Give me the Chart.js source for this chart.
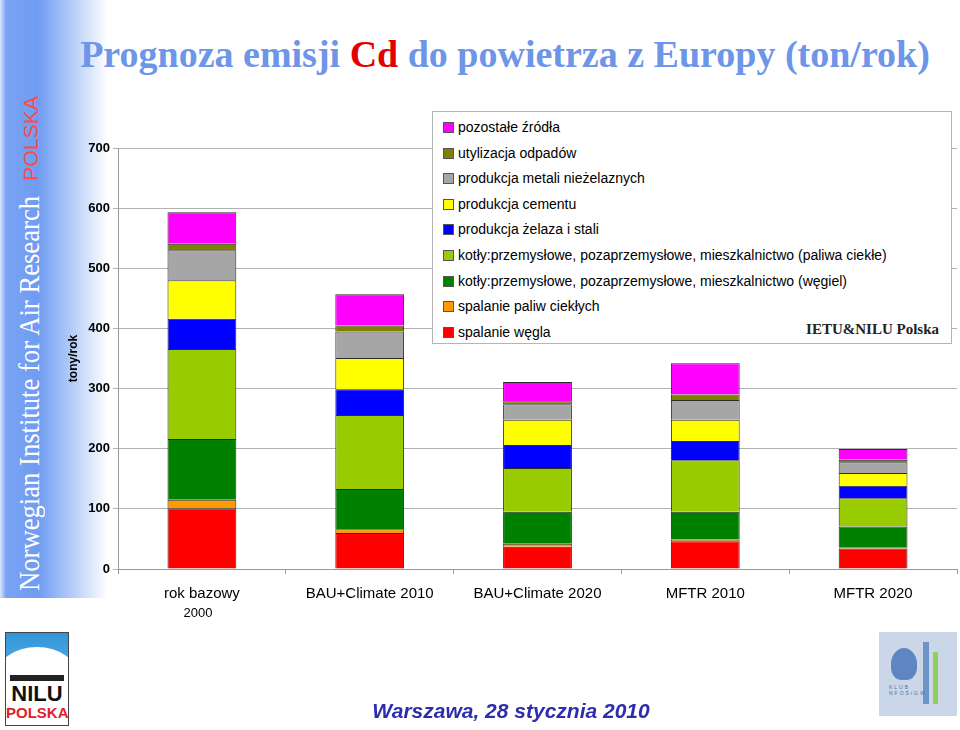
<!DOCTYPE html>
<html>
<head>
<meta charset="utf-8">
<script src="https://cdn.jsdelivr.net/npm/chart.js@4"></script>
<style>
  body { margin: 0; width: 960px; height: 730px; position: relative; overflow: hidden; background: #fff; font-family: "Liberation Sans", Arial, sans-serif; }
  #side { position: absolute; left: 0; top: 0; width: 110px; height: 598px;
    background: linear-gradient(to right, #dce6fa 0px, #7aa3f3 6px, #6f9cf2 38px, rgba(255,255,255,0) 108px); }
  .rot { position: absolute; width: 600px; height: 36px; line-height: 36px;
    transform: rotate(-90deg); transform-origin: left top; white-space: nowrap; }
  .rot span { display: inline-block; transform-origin: left center; }
  #sideN { left: 11px; top: 591px; font-family: "Liberation Serif", "Times New Roman", serif; font-size: 29px; color: #fff; }
  #sideP { left: 13px; top: 181px; font-family: "Liberation Sans", Arial, sans-serif; font-size: 21px; color: #ff4a4a; }
  #title { position: absolute; left: 0; top: 32px; width: 1010px; text-align: center; white-space: nowrap;
    font-family: "Liberation Serif", "Times New Roman", serif; font-weight: bold; font-size: 38px; color: #6d95e8; }
  #title span { color: #e50000; }
  #myChart { position: absolute; left: 0; top: 0; }
  #legend { position: absolute; left: 432px; top: 111px; width: 520px; height: 233px; background: #fff;
    border: 1px solid #b5b5b5; box-sizing: border-box; }
  .item { position: absolute; left: 10px; height: 20px; line-height: 20px; font-size: 14px; color: #000; white-space: nowrap; }
  .item i { display: inline-block; width: 9px; height: 9px; border: 1px solid #555; margin-right: 4px; vertical-align: -1px; }
  #ietu { position: absolute; right: 12px; top: 209px; font-family: "Liberation Serif", "Times New Roman", serif;
    font-weight: bold; font-size: 15px; color: #222; }
  #footer { position: absolute; left: 0; width: 1022px; top: 699px; text-align: center; font-size: 21px;
    font-weight: bold; font-style: italic; color: #2c2cae; }
  #nilu { position: absolute; left: 5px; top: 632px; width: 64px; height: 94px; border: 1px solid #444; box-sizing: border-box; background: #fff; overflow: hidden; }
  #nilu .sky { height: 50px; background: linear-gradient(#2f95d8, #66b5e6); position: relative; overflow: hidden; }
  #nilu .dome { position: absolute; left: -10px; top: 14px; width: 82px; height: 60px; border-radius: 50%; background: #fff; }
  #nilu .city { position: absolute; left: 4px; right: 4px; bottom: 2px; height: 6px; background: #222; }
  #nilu .t1 { font-weight: bold; font-size: 22px; line-height: 21px; text-align: center; color: #111; }
  #nilu .t2 { font-weight: bold; font-size: 15px; line-height: 17px; text-align: center; color: #e0202a; }
  #klub { position: absolute; left: 879px; top: 632px; width: 78px; height: 84px; background: #cbd7e9; }
  #klub .k { position: absolute; left: 10px; top: 52px; font-size: 5px; color: #4a6fa8; letter-spacing: 2px; }
  #klub .m { position: absolute; left: 44px; top: 10px; width: 6px; height: 62px; background: #6e95c8; }
  #klub .g { position: absolute; left: 54px; top: 20px; width: 5px; height: 52px; background: #8fcf5a; }
  #klub .h { position: absolute; left: 12px; top: 16px; width: 26px; height: 32px; border-radius: 50% 50% 40% 40%; background: #5f86c0; }
</style>
</head>
<body>
<div id="side"></div>
<div class="rot" id="sideN"><span data-len="395">Norwegian Institute for Air Research</span></div>
<div class="rot" id="sideP"><span data-len="85">POLSKA</span></div>
<div id="title">Prognoza emisji <span>Cd</span> do powietrza z Europy (ton/rok)</div>
<canvas id="myChart" width="960" height="730"></canvas>
<div id="legend"><div id="ietu">IETU&amp;NILU Polska</div></div>
<div id="footer">Warszawa, 28 stycznia 2010</div>
<div id="nilu"><div class="sky"><div class="dome"></div><div class="city"></div></div><div class="t1">NILU</div><div class="t2">POLSKA</div></div>
<div id="klub"><div class="h"></div><div class="m"></div><div class="g"></div><div class="k">KLUB<br>NFOŚiGW</div></div>
<script>
const categories = ['rok bazowy', 'BAU+Climate 2010', 'BAU+Climate 2020', 'MFTR 2010', 'MFTR 2020'];
const subLabels = ['2000', '', '', '', ''];
const yTicks = [0, 100, 200, 300, 400, 500, 600, 700];

// series, from the bottom of the stack upwards
const spalanieWegla = [101, 60, 37, 46, 34];
const spalaniePaliw = [14, 6, 5, 3, 1.5];
const kotlyWegiel = [101, 67, 53, 46, 35];
const kotlyPaliwa = [150, 123, 73, 86, 47];
const zelazoStal = [50, 43, 38, 32, 21];
const cement = [64, 52, 42, 35, 21];
const metaleNiezelazne = [50, 44, 26, 33, 18];
const odpady = [11, 10, 5, 9, 4];
const pozostale = [52, 52, 32, 52, 18];

const seriesNames = [
  'spalanie węgla',
  'spalanie paliw ciekłych',
  'kotły:przemysłowe, pozaprzemysłowe, mieszkalnictwo (węgiel)',
  'kotły:przemysłowe, pozaprzemysłowe, mieszkalnictwo (paliwa ciekłe)',
  'produkcja żelaza i stali',
  'produkcja cementu',
  'produkcja metali nieżelaznych',
  'utylizacja odpadów',
  'pozostałe źródła'
];
const seriesValues = [spalanieWegla, spalaniePaliw, kotlyWegiel, kotlyPaliwa, zelazoStal, cement, metaleNiezelazne, odpady, pozostale];
const seriesColors = ['#ff0000', '#ff9900', '#008000', '#99cc00', '#0000ff', '#ffff00', '#a6a6a6', '#808000', '#ff00ff'];

// squeeze the rotated sidebar texts to their length in the picture
document.querySelectorAll('.rot span').forEach(s => {
  const w = s.offsetWidth;
  if (w) s.style.transform = 'scaleX(' + (Number(s.dataset.len) / w) + ')';
});

const datasets = seriesNames.map((name, i) => ({
  label: name,
  data: seriesValues[i],
  backgroundColor: seriesColors[i],
  borderColor: '#2a2a2a',
  borderWidth: 1,
  barPercentage: 0.41,
  categoryPercentage: 1
}));

// legend, top entry first
const legend = document.getElementById('legend');
datasets.slice().reverse().forEach((ds, i) => {
  const d = document.createElement('div');
  d.className = 'item';
  d.style.top = (5 + i * 25.6) + 'px';
  d.innerHTML = '<i style="background:' + ds.backgroundColor + '"></i>' + ds.label;
  legend.appendChild(d);
});

const subLabelPlugin = {
  id: 'subLabels',
  afterDraw(chart) {
    const x = chart.scales.x;
    const ctx = chart.ctx;
    ctx.save();
    ctx.font = '13px "Liberation Sans", Arial, sans-serif';
    ctx.fillStyle = '#000';
    ctx.textAlign = 'center';
    ctx.textBaseline = 'middle';
    subLabels.forEach((t, i) => {
      if (t) ctx.fillText(t, x.getPixelForValue(i) - 4, x.top + 44);
    });
    ctx.restore();
  }
};

const ctx = document.getElementById('myChart');

new Chart(ctx, {
  type: 'bar',
  data: { labels: categories, datasets: datasets },
  plugins: [subLabelPlugin],
  options: {
    responsive: false,
    animation: false,
    layout: { padding: { left: 62, top: 148, right: 3, bottom: 0 } },
    plugins: {
      legend: { display: false },
      tooltip: { enabled: false }
    },
    scales: {
      x: {
        stacked: true,
        afterFit: (s) => { s.height = 161; },
        grid: { offset: true, drawOnChartArea: false, tickLength: 5, color: '#999' },
        border: { color: '#999' },
        ticks: { color: '#000', padding: 11, font: { size: 15, family: '"Liberation Sans", Arial, sans-serif' } }
      },
      y: {
        stacked: true,
        min: 0,
        max: 700,
        afterFit: (s) => { s.width = 56; },
        afterBuildTicks: (s) => { s.ticks = yTicks.map(v => ({ value: v })); },
        title: { display: true, text: 'tony/rok', color: '#000', padding: { top: 4, bottom: 0 },
          font: { size: 12, weight: 'bold', family: '"Liberation Sans", Arial, sans-serif' } },
        grid: { color: '#b3b3b3', tickLength: 5 },
        border: { color: '#999' },
        ticks: { color: '#000', padding: 3, font: { size: 13, weight: 'bold', family: '"Liberation Sans", Arial, sans-serif' } }
      }
    }
  }
});
</script>
</body>
</html>
